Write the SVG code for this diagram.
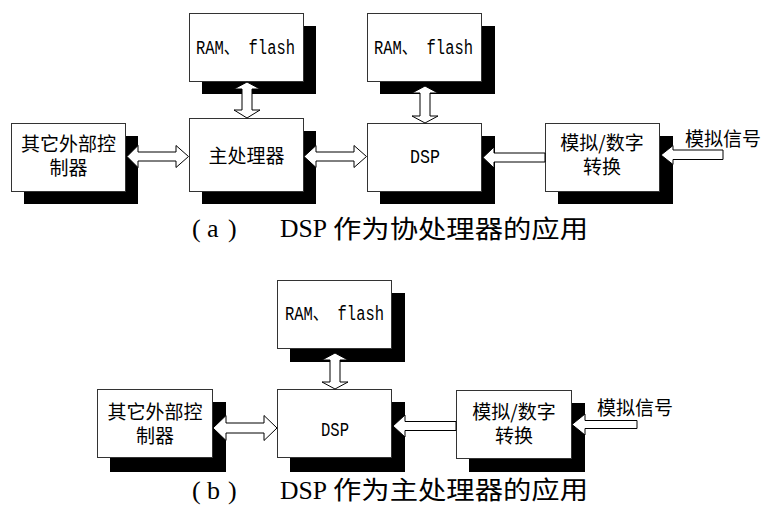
<svg xmlns="http://www.w3.org/2000/svg" width="762" height="505" viewBox="0 0 762 505">
<style>
.box{fill:#fff;stroke:#333;stroke-width:1}
.shadow{fill:#000}
.arrow{fill:#fff;stroke:#000;stroke-width:1;stroke-linejoin:miter}
.cjk{font-family:"Noto Sans CJK SC","Noto Sans",sans-serif;font-size:19px;fill:#000;text-anchor:middle}
.sig{font-family:"Noto Sans CJK SC","Noto Sans",sans-serif;font-size:19px;fill:#000}
.mono{font-family:"Liberation Mono","Noto Sans CJK SC",monospace;font-size:20px;fill:#000}
.dsp{font-family:"Liberation Mono","DejaVu Sans Mono",monospace;font-size:21px;fill:#000}
.cap{font-family:"Liberation Serif","Noto Sans CJK SC",serif;font-size:26px;fill:#000}
.capc{font-family:"Noto Sans CJK SC",sans-serif;font-size:25px;fill:#000}
</style>

<!-- (a) DSP as coprocessor -->
<g id="a-ram1">
  <rect class="shadow" x="202" y="26" width="114" height="68"/>
  <rect class="box" x="189.5" y="13.5" width="114" height="68"/>
  <text class="mono" x="196" y="54" textLength="99" lengthAdjust="spacingAndGlyphs">RAM、 flash</text>
</g>
<g id="a-ram2">
  <rect class="shadow" x="380" y="26" width="115" height="68"/>
  <rect class="box" x="367.5" y="13.5" width="114" height="68"/>
  <text class="mono" x="374" y="54" textLength="99" lengthAdjust="spacingAndGlyphs">RAM、 flash</text>
</g>
<g id="a-ext">
  <rect class="shadow" x="24" y="136" width="114" height="68"/>
  <rect class="box" x="11.5" y="123.5" width="114" height="68"/>
  <text class="cjk" x="68.5" y="151">其它外部控</text>
  <text class="cjk" x="68.5" y="175">制器</text>
</g>
<g id="a-host">
  <rect class="shadow" x="202" y="131" width="114" height="73"/>
  <rect class="box" x="189.5" y="118.5" width="114" height="73"/>
  <text class="cjk" x="246.5" y="163">主处理器</text>
</g>
<g id="a-dsp">
  <rect class="shadow" x="380" y="136" width="115" height="68"/>
  <rect class="box" x="367.5" y="123.5" width="114" height="68"/>
  <text class="dsp" x="410" y="163" textLength="30" lengthAdjust="spacingAndGlyphs">DSP</text>
</g>
<g id="a-adc">
  <rect class="shadow" x="558" y="136" width="115" height="68"/>
  <rect class="box" x="545.5" y="123.5" width="114" height="68"/>
  <text class="cjk" x="602" y="150">模拟/数字</text>
  <text class="cjk" x="602" y="174">转换</text>
</g>
<text class="sig" x="685" y="146">模拟信号</text>

<!-- (b) DSP as host processor -->
<g id="b-ram">
  <rect class="shadow" x="290" y="293" width="115" height="69"/>
  <rect class="box" x="277.5" y="280.5" width="114" height="68"/>
  <text class="mono" x="285" y="320" textLength="99" lengthAdjust="spacingAndGlyphs">RAM、 flash</text>
</g>
<g id="b-ext">
  <rect class="shadow" x="110" y="402" width="116" height="70"/>
  <rect class="box" x="97.5" y="389.5" width="115" height="68"/>
  <text class="cjk" x="155" y="419">其它外部控</text>
  <text class="cjk" x="155" y="443">制器</text>
</g>
<g id="b-dsp">
  <rect class="shadow" x="290" y="402" width="115" height="70"/>
  <rect class="box" x="277.5" y="389.5" width="114" height="68"/>
  <text class="dsp" x="321" y="436" textLength="28" lengthAdjust="spacingAndGlyphs">DSP</text>
</g>
<g id="b-adc">
  <rect class="shadow" x="469" y="403" width="116" height="69"/>
  <rect class="box" x="456.5" y="390.5" width="115" height="68"/>
  <text class="cjk" x="514" y="419">模拟/数字</text>
  <text class="cjk" x="514" y="443">转换</text>
</g>
<text class="sig" x="597" y="415">模拟信号</text>

<!-- hollow block arrows -->
<g id="connectors">
  <path class="arrow" d="M247,82 L260,89 L252,89 L252,110 L260,110 L247,118 L234,110 L242,110 L242,89 L234,89 Z"/>
  <path class="arrow" d="M425,86 L438,93 L430,93 L430,116 L438,116 L425,123 L412,116 L420,116 L420,93 L412,93 Z"/>
  <path class="arrow" d="M127,156.5 L138,145.5 L138,152 L176,152 L176,145.5 L188.5,156.5 L176,167.5 L176,161 L138,161 L138,167.5 Z"/>
  <path class="arrow" d="M304,156.5 L316,145.5 L316,152 L354,152 L354,145.5 L366.5,156.5 L354,167.5 L354,161 L316,161 L316,167.5 Z"/>
  <path class="arrow" d="M483,157.5 L494,147 L494,153 L545,153 L545,162 L494,162 L494,168 Z"/>
  <path class="arrow" d="M661,155 L673,145.5 L673,150 L723,150 L723,159.5 L673,159.5 L673,164.5 Z"/>
  <path class="arrow" d="M335,353 L348,360 L340,360 L340,382 L348,382 L335,389 L322,382 L330,382 L330,360 L322,360 Z"/>
  <path class="arrow" d="M213,428 L226,415.5 L226,423 L264,423 L264,415.5 L277,428 L264,440.5 L264,433 L226,433 L226,440.5 Z"/>
  <path class="arrow" d="M393,426 L405,415 L405,421.5 L456,421.5 L456,430.5 L405,430.5 L405,437 Z"/>
  <path class="arrow" d="M572,424.5 L585,414 L585,420.5 L637,420.5 L637,428.5 L585,428.5 L585,435 Z"/>
</g>

<!-- captions -->
<text class="cap" y="237"><tspan x="192">(</tspan><tspan x="207">a</tspan><tspan x="228">)</tspan><tspan x="280" textLength="47" lengthAdjust="spacingAndGlyphs">DSP</tspan></text>
<text class="capc" x="333" y="238" textLength="255" lengthAdjust="spacingAndGlyphs">作为协处理器的应用</text>
<text class="cap" y="499"><tspan x="192">(</tspan><tspan x="207">b</tspan><tspan x="228">)</tspan><tspan x="280" textLength="47" lengthAdjust="spacingAndGlyphs">DSP</tspan></text>
<text class="capc" x="333" y="499" textLength="255" lengthAdjust="spacingAndGlyphs">作为主处理器的应用</text>
</svg>
